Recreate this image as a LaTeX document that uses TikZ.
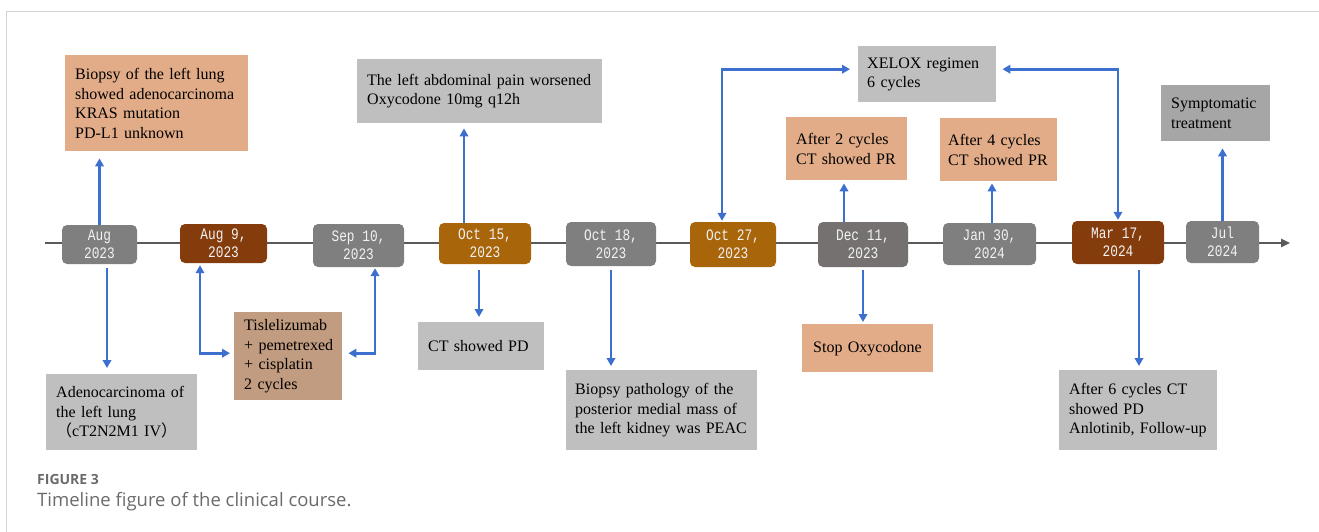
\documentclass[tikz,border=0pt]{standalone}
\usepackage{fontspec}
\setmainfont{Liberation Serif}
\newfontfamily\datefont[FakeStretch=0.8]{Liberation Mono}
\newfontfamily\capfont{Open Sans}
\newfontfamily\cjk{Noto Sans CJK SC}
\usetikzlibrary{arrows.meta,calc}
\definecolor{peach}{HTML}{E3AC88}
\definecolor{tan}{HTML}{C19C80}
\definecolor{lgray}{HTML}{BFBFBF}
\definecolor{mgray}{HTML}{A6A6A6}
\definecolor{dgray}{HTML}{7F7F7F}
\definecolor{dgrayb}{HTML}{767171}
\definecolor{dbrown}{HTML}{843C0C}
\definecolor{dorange}{HTML}{A8650A}
\definecolor{arrblue}{HTML}{3D6FCF}
\definecolor{tlgray}{HTML}{5A5A5A}
\definecolor{capgray}{HTML}{6B6B6B}
\definecolor{framegray}{HTML}{D4D4D4}
\tikzset{
  datebox/.style={rounded corners=5pt, text=white!95!black, inner sep=0pt,
    align=center, font=\fontsize{16}{18}\datefont},
  evbox/.style={inner xsep=10pt, inner ysep=0pt, align=left, anchor=north west,
    font=\fontsize{16}{19.5}\selectfont},
  arr/.style={draw=arrblue, line width=2.8pt, -{Triangle[length=8pt,width=8.5pt]}},
  arrtwo/.style={draw=arrblue, line width=2.8pt, {Triangle[length=8pt,width=8.5pt]}-{Triangle[length=8pt,width=8.5pt]}},
}
\begin{document}
\begin{tikzpicture}[x=1pt,y=-1pt]
\useasboundingbox (0,0) rectangle (1319,532);
% frame
\draw[framegray, line width=1.2pt] (6.5,532) -- (6.5,11.5) -- (1319,11.5);
% timeline
\coordinate (tl0) at (45,243);
\coordinate (tl1) at (1290,243);
\draw[tlgray, line width=2.5pt, -{Triangle[length=9pt,width=8pt]}] (tl0) -- (tl1);
% date boxes
\node[datebox, fill=dgray, minimum width=75pt, minimum height=39pt] (d1) at (99.5,244.5) {Aug\\2023};
\node[datebox, fill=dbrown, minimum width=87pt, minimum height=39pt] (d2) at (223.5,243.5) {Aug 9,\\2023};
\node[datebox, fill=dgray, minimum width=91pt, minimum height=43pt] (d3) at (358.5,245.5) {Sep 10,\\2023};
\node[datebox, fill=dorange, minimum width=92pt, minimum height=41pt] (d4) at (485,243.5) {Oct 15,\\2023};
\node[datebox, fill=dgray, minimum width=90pt, minimum height=44pt] (d5) at (611,244) {Oct 18,\\2023};
\node[datebox, fill=dorange, minimum width=86pt, minimum height=45pt] (d6) at (733,244.5) {Oct 27,\\2023};
\node[datebox, fill=dgrayb, minimum width=90pt, minimum height=45pt] (d7) at (863,244.5) {Dec 11,\\2023};
\node[datebox, fill=dgray, minimum width=93pt, minimum height=42pt] (d8) at (989.5,244) {Jan 30,\\2024};
\node[datebox, fill=dbrown, minimum width=92pt, minimum height=43pt] (d9) at (1118,242.5) {Mar 17,\\2024};
\node[datebox, fill=dgray, minimum width=73pt, minimum height=42pt] (d10) at (1222.5,242) {Jul\\2024};
% event boxes (top)
\node[evbox, fill=peach, text width=163pt, minimum height=96pt] (A) at (65,55)
  {Biopsy of the left lung\\showed adenocarcinoma\\KRAS mutation\\PD-L1 unknown};
\node[evbox, fill=lgray, text width=225pt, minimum height=64pt] (B) at (357,59)
  {The left abdominal pain worsened\\Oxycodone 10mg q12h};
\node[evbox, fill=lgray, inner xsep=9pt, text width=120pt, minimum height=56pt] (C) at (858,46)
  {XELOX regimen\\6 cycles};
\node[evbox, fill=peach, text width=101pt, minimum height=63pt] (D) at (786,117)
  {After 2 cycles\\CT showed PR};
\node[evbox, fill=peach, inner xsep=8pt, text width=101pt, minimum height=63pt] (E) at (940,118)
  {After 4 cycles\\CT showed PR};
\node[evbox, fill=mgray, text width=89pt, minimum height=56pt] (F) at (1161,85)
  {Symptomatic\\treatment};
% event boxes (bottom)
\node[evbox, fill=lgray, text width=131pt, minimum height=76pt] (G) at (46,374)
  {Adenocarcinoma of\\the left lung\\{\cjk （}cT2N2M1 IV{\cjk ）}};
\node[evbox, fill=tan, text width=88pt, minimum height=88pt] (H) at (234,312)
  {Tislelizumab\\\mbox{+ pemetrexed}\\+ cisplatin\\2 cycles};
\node[evbox, fill=lgray, text width=106pt, minimum height=48pt] (I) at (418,322)
  {CT showed PD};
\node[evbox, fill=lgray, inner xsep=9pt, text width=173pt, minimum height=80pt] (J) at (566,370)
  {Biopsy pathology of the\\posterior medial mass of\\the left kidney was PEAC};
\node[evbox, fill=peach, inner xsep=11pt, text width=109pt, minimum height=48pt] (K) at (802,324)
  {Stop Oxycodone};
\node[evbox, fill=lgray, text width=138pt, minimum height=80pt] (L) at (1059,370)
  {After 6 cycles CT\\showed PD\\Anlotinib, Follow-up};
% arrows
\draw[arr, shorten >=7pt] (d1.north) -- (d1.north |- A.south);
\coordinate (s2) at ([xshift=7.5pt,yshift=-4pt]d1.south);
\draw[arr, shorten >=6pt] (s2) -- (s2 |- G.north);
\draw[arrtwo, shorten <=2pt, shorten >=4pt] ([xshift=-23.5pt]d2.south) |- ([yshift=3pt]H.west);
\draw[arrtwo, shorten <=1pt, shorten >=6pt] ([xshift=16.5pt]d3.south) |- ([yshift=3pt]H.east);
\coordinate (s5) at ([xshift=-21pt]d4.north);
\draw[arr, shorten >=5pt] (s5) -- (s5 |- B.south);
\coordinate (s6) at ([xshift=-6pt,yshift=-6pt]d4.south);
\draw[arr, shorten >=5pt] (s6) -- (s6 |- I.north);
\coordinate (s7) at ([yshift=-4pt]d5.south);
\draw[arr, shorten >=4pt] (s7) -- (s7 |- J.north);
\draw[arrtwo, shorten <=1pt, shorten >=8pt] ([xshift=-11pt]d6.north) |- ([yshift=5pt]C.west);
\coordinate (s9) at ([xshift=-19pt]d7.north);
\draw[arr, shorten >=3pt] (s9) -- (s9 |- D.south);
\coordinate (s10) at ([yshift=-3pt]d7.south);
\draw[arr, shorten >=2pt] (s10) -- (s10 |- K.north);
\coordinate (s11) at ([xshift=2.5pt]d8.north);
\draw[arr, shorten >=2pt] (s11) -- (s11 |- E.south);
\draw[arrtwo, shorten <=1pt, shorten >=6pt] (d9.north) |- ([yshift=5pt]C.east);
\coordinate (s13) at ([xshift=21pt,yshift=-6pt]d9.south);
\draw[arr, shorten >=4pt] (s13) -- (s13 |- L.north);
\draw[arr, shorten >=7pt] (d10.north) -- (d10.north |- F.south);
% caption
\node[anchor=west, inner sep=0pt, text=capgray, font=\fontsize{14}{16}\capfont\bfseries] (cap1) at (37,479) {FIGURE 3};
\node[anchor=west, inner sep=0pt, text=capgray, font=\fontsize{18.5}{21}\capfont] (cap2) at (37,502) {Timeline figure of the clinical course.};
\end{tikzpicture}
\end{document}
